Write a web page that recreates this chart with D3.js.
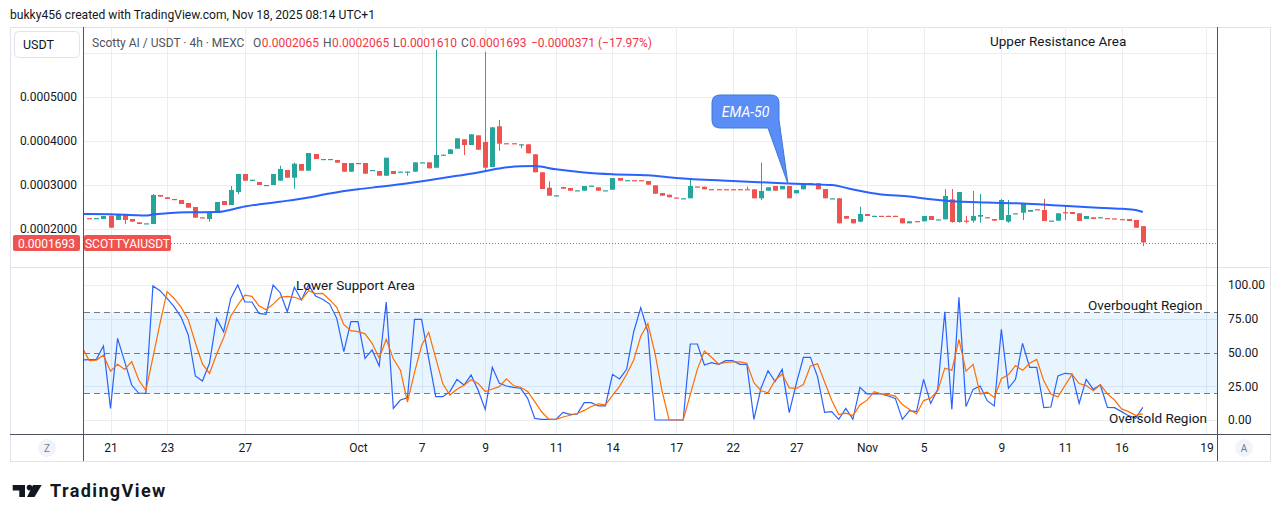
<!DOCTYPE html>
<html>
<head>
<meta charset="utf-8">
<script src="https://cdn.jsdelivr.net/npm/d3@7"></script>
<style>
body{margin:0;background:#fff;}
text{font-family:Roboto,"Liberation Sans",Arial,sans-serif;}
</style>
</head>
<body>
<div class="container"></div>
<script>
// prices are in units of 1e-7 USDT (2065 = 0.0002065), bar index 1..150
const opens = [2248,2243,2227,2303,2205,2318,2227,2152,2122,2114,
 2773,2720,2682,2659,2591,2500,2265,2227,2386,2636,
 2545,2841,3250,3114,3068,2993,3000,3098,3341,3166,
 3477,3325,3705,3584,3584,3568,3500,3302,3500,3500,
 3334,3318,3211,3318,3300,3300,3302,3510,3515,3393,
 3682,3705,3825,4039,3909,4129,3977,3409,4334,3950,
 3950,3920,3925,3698,3289,2939,2759,2955,2932,2875,
 2870,2977,2947,2875,2893,3159,3105,3110,3110,3091,
 2993,2818,2780,2716,2693,2698,2966,2961,2905,2905,
 2905,2905,2905,2905,2902,2698,2870,2977,2902,2977,
 2811,2902,3039,3039,2909,2693,2698,2295,2227,2167,
 2341,2295,2300,2300,2300,2243,2129,2180,2175,2295,
 2216,2220,2675,2159,2190,2189,2280,2268,2227,2205,
 2167,2352,2370,2393,2450,2432,2186,2189,2382,2386,
 2357,2227,2265,2263,2248,2240,2225,2227,2205,2065];
const highs = [2248,2248,2295,2303,2341,2318,2227,2152,2129,2795,
 2773,2720,2682,2659,2591,2500,2265,2379,2614,2636,
 2977,3250,3250,3120,3068,3000,3250,3439,3341,3507,
 3477,3727,3705,3591,3591,3568,3500,3500,3500,3500,
 3341,3318,3620,3318,3305,3305,3515,3515,3515,6068,
 3690,3811,4061,4039,4152,4129,6030,4311,4477,3950,
 3950,3925,3925,3698,3289,3084,2766,2955,2932,2880,
 2977,2984,2947,2880,3159,3159,3110,3110,3110,3091,
 2993,2818,2780,2716,2698,3152,2966,2961,2905,2905,
 2905,2905,2905,2961,2902,3507,2948,2977,2977,2977,
 2886,3039,3045,3039,2909,2698,2698,2295,2227,2507,
 2341,2300,2300,2300,2300,2243,2175,2180,2295,2295,
 2220,2909,2909,2841,2295,2864,2795,2268,2227,2682,
 2659,2357,2568,2432,2450,2682,2190,2357,2545,2386,
 2357,2295,2265,2268,2248,2240,2225,2227,2205,2065];
const lows = [2243,2243,2227,2030,2205,2114,2167,2114,2122,2114,
 2735,2682,2659,2568,2484,2257,2257,2167,2386,2545,
 2545,2795,3098,3114,3000,2993,3000,3098,3166,2916,
 3325,3325,3591,3584,3584,3507,3302,3302,3493,3257,
 3334,3211,3211,3250,3300,3211,3302,3510,3379,3393,
 3682,3705,3825,3682,3909,3802,3302,3409,3773,3943,
 3943,3834,3720,3289,2909,2757,2759,2916,2870,2875,
 2870,2977,2870,2875,2893,3098,3105,3105,3105,3007,
 2802,2757,2720,2711,2693,2698,2961,2902,2900,2900,
 2900,2900,2900,2900,2698,2659,2870,2870,2902,2698,
 2811,2902,3039,2902,2698,2693,2129,2234,2129,2152,
 2295,2295,2295,2295,2295,2129,2129,2175,2175,2205,
 2216,2220,2143,2143,2129,2143,2143,2263,2189,2205,
 2143,2352,2205,2393,2445,2182,2186,2189,2205,2341,
 2182,2227,2227,2263,2243,2235,2220,2182,2030,1610];
const closes = [2243,2248,2295,2030,2341,2205,2167,2114,2129,2773,
 2735,2682,2659,2568,2484,2257,2257,2379,2614,2545,
 2886,3250,3098,3120,3000,3000,3250,3364,3166,3484,
 3325,3727,3591,3591,3591,3507,3302,3500,3493,3257,
 3341,3211,3620,3250,3305,3305,3515,3515,3379,3682,
 3690,3811,4061,3909,4152,3802,3393,4311,3939,3943,
 3943,3925,3720,3289,2909,2757,2766,2916,2870,2880,
 2977,2984,2870,2880,3159,3098,3110,3105,3105,3007,
 2802,2757,2720,2711,2698,2977,2961,2902,2900,2900,
 2900,2900,2900,2900,2698,2864,2948,2870,2977,2698,
 2886,3039,3045,2902,2698,2698,2129,2234,2129,2341,
 2295,2300,2295,2295,2295,2129,2175,2175,2295,2205,
 2220,2750,2159,2841,2186,2295,2318,2263,2189,2659,
 2318,2357,2568,2432,2445,2182,2190,2357,2377,2341,
 2182,2295,2227,2268,2243,2235,2220,2182,2030,1693];

// EMA-50 at some bars
const emaIndex = [0,1,4,8,9,10,12,15,19,23,28,32,35,39,42,45,49,53,56,59,62,64,67,71,75,80,84,92,99,103,106,109,113,117,120,123,128,133,138,143,147,149,150];
const emaValue = [2341,2341,2336,2311,2307,2330,2357,2380,2386,2511,2620,2716,2807,2902,2959,3016,3107,3209,3284,3375,3425,3430,3357,3284,3243,3220,3159,3091,3041,3018,3000,2898,2784,2739,2675,2632,2602,2580,2534,2489,2459,2432,2386];

// stoch RSI, bar index 0..150
const stochK = [44.4,44.7,44.9,54.8,8.6,60.5,43.2,25.9,19.8,19.8,
 99.3,95.8,90.1,84,76,63,32.6,28.9,42,75.3,
 65.4,90.1,100,87.4,87.4,79,78.3,100,94.3,80.2,
 98.3,88.9,100,91.9,89.4,85.9,75.3,50.6,72.8,72.8,
 45.7,51.9,40,87.4,8.6,14.8,16.5,74.6,74.6,45.7,
 17.3,17.3,21,30.1,25.9,33.3,22,7.9,39,27.2,
 25.2,24.2,23.5,16,1.2,0.5,0.5,0.5,5.7,4.2,
 4.4,12.8,12.8,10.4,10.4,33.8,30.4,37.5,65.4,83.2,
 65.4,0,0,0,0,0,56.3,56.3,40.7,42.5,
 41.2,44,44,41.2,41.2,0.5,23.5,36.5,28.4,37.5,
 5.4,27.2,46.4,46.4,32.1,5.7,6.2,0.5,8.6,0.5,
 24.2,19.3,19.3,19.3,17.8,16,0.5,6.9,6.2,30.1,
 12.3,22.7,80.2,7.9,90.9,9.9,22.7,25.2,14.3,10.4,
 67.2,23.5,30.1,56.8,39,39,9.1,9.6,32.6,34.6,
 34.1,12.3,30.1,22.7,25.9,9.4,9.1,6.2,3.2,1.2,
 9.4];
const stochD = [53.8,44,44.4,48,36.1,41.3,37.4,43.2,29.6,21.8,
 46.3,71.6,95.1,90,83.4,74.3,57.2,41.5,34.5,48.7,
 60.9,76.9,85.2,92.5,91.6,84.6,81.6,85.8,90.9,91.5,
 90.9,89.1,95.7,93.6,93.8,89.1,83.5,70.6,66.2,65.4,
 63.8,56.8,45.9,59.8,45.3,36.9,13.3,35.3,55.2,65,
 45.9,26.8,18.5,22.8,25.7,29.8,27.1,21.1,23,24.7,
 30.5,25.5,24.3,21.2,13.6,5.9,0.7,0.5,2.2,3.5,
 4.8,7.1,10,12,11.2,18.2,24.9,33.9,44.4,62,
 71.3,49.7,21.8,0.2,0,0,18.8,37.5,51.1,46.5,
 41.5,42.6,43.1,43.1,42.1,27.6,21.7,20.2,29.5,34.1,
 23.8,23.4,26.3,40,41.6,28.1,14.7,4.1,5.1,3.2,
 11.1,14.7,20.9,19.3,18.8,17.7,11.4,7.8,4.5,14.4,
 16.2,21.7,38.4,36.9,59.7,36.2,41.2,19.3,20.7,16.6,
 30.6,33.7,40.3,36.8,42,44.9,29,19.2,17.1,25.6,
 33.8,27,25.5,21.7,26.2,19.3,14.8,8.2,6.2,3.5,
 4.6];

// time axis
const tickIndex = [4,12,23,39,48,57,67,75,84,92,101,111,119,130,139,147,159];
const tickLabels = ['21','23','27','Oct','7','9','11','14','17','22','27','Nov','5','9','11','16','19'];
const priceTicks = [2000,3000,4000,5000];
const oscTicks = [0,25,50,75,100];
const lastPrice = 1693;

const WIDTH = 1281, HEIGHT = 522;
const LEFT = 84, RIGHT = 1217;
const PRICE_TOP = 27, PRICE_BOTTOM = 267, OSC_TOP = 268, OSC_BOTTOM = 434, FRAME_BOTTOM = 461;
const UP = '#26a69a', DOWN = '#ef5350', GRID = '#e9eef4', AXIS = '#50535e', TXT = '#131722';

var svg = d3.select('.container').append('svg').attr('width',WIDTH).attr('height',HEIGHT);

var x = d3.scaleLinear().domain([0.25,160.5]).range([LEFT,RIGHT]);
var y = d3.scaleLinear().domain([2000,6000]).range([229,53]);
var yOsc = d3.scaleLinear().domain([0,100]).range([420,285]);

var crisp = function(v){ return Math.round(v)+0.5; };

svg.append('clipPath').attr('id','priceClip').append('rect')
  .attr('x',LEFT).attr('y',PRICE_TOP).attr('width',RIGHT-LEFT).attr('height',PRICE_BOTTOM-PRICE_TOP);
svg.append('clipPath').attr('id','oscClip').append('rect')
  .attr('x',LEFT).attr('y',OSC_TOP).attr('width',RIGHT-LEFT).attr('height',OSC_BOTTOM-OSC_TOP);

// header
svg.append('text').attr('x',10).attr('y',18.5).attr('font-size',12.1).attr('fill',TXT)
  .text('bukky456 created with TradingView.com, Nov 18, 2025 08:14 UTC+1');

// frame
svg.append('rect').attr('x',10.5).attr('y',PRICE_TOP+0.5).attr('width',1260).attr('height',FRAME_BOTTOM-PRICE_TOP)
  .attr('fill','none').attr('stroke','#e0e3eb');

// grid
var grid = svg.append('g');
tickIndex.forEach(function(t){
  grid.append('line').attr('x1',crisp(x(t))).attr('x2',crisp(x(t))).attr('y1',PRICE_TOP).attr('y2',PRICE_BOTTOM).attr('stroke',GRID);
  grid.append('line').attr('x1',crisp(x(t))).attr('x2',crisp(x(t))).attr('y1',OSC_TOP).attr('y2',OSC_BOTTOM).attr('stroke',GRID);
});
priceTicks.concat([6000]).forEach(function(p){
  grid.append('line').attr('x1',LEFT).attr('x2',RIGHT).attr('y1',crisp(y(p))).attr('y2',crisp(y(p))).attr('stroke',GRID);
});
[0,25,75,100].forEach(function(v){
  grid.append('line').attr('x1',LEFT).attr('x2',RIGHT).attr('y1',crisp(yOsc(v))).attr('y2',crisp(yOsc(v))).attr('stroke',GRID);
});

// oscillator band and levels
svg.append('rect').attr('x',LEFT).attr('y',yOsc(80)).attr('width',RIGHT-LEFT).attr('height',yOsc(20)-yOsc(80))
  .attr('fill','rgba(33,150,243,0.1)');
[80,50,20].forEach(function(v){
  svg.append('line').attr('x1',LEFT).attr('x2',RIGHT).attr('y1',crisp(yOsc(v))).attr('y2',crisp(yOsc(v)))
    .attr('stroke','#787b86').attr('stroke-dasharray','6,4');
});

// candles
var candles = svg.append('g').attr('clip-path','url(#priceClip)');
var bars = d3.range(opens.length);
candles.selectAll('line').data(bars).join('line')
  .attr('x1',function(i){ return Math.round(x(i+1))+0.5; })
  .attr('x2',function(i){ return Math.round(x(i+1))+0.5; })
  .attr('y1',function(i){ return y(highs[i]); })
  .attr('y2',function(i){ return y(lows[i]); })
  .attr('stroke',function(i){ return closes[i]>=opens[i] ? UP : DOWN; });
candles.selectAll('rect').data(bars).join('rect')
  .attr('x',function(i){ return Math.round(x(i+1))-2; })
  .attr('y',function(i){ return y(Math.max(opens[i],closes[i])); })
  .attr('width',5)
  .attr('height',function(i){ return Math.max(1.2, Math.abs(y(opens[i])-y(closes[i]))); })
  .attr('fill',function(i){ return closes[i]>=opens[i] ? UP : DOWN; });

// EMA-50
var ema = d3.line().x(function(d){ return x(d[0]); }).y(function(d){ return y(d[1]); }).curve(d3.curveMonotoneX);
svg.append('path').attr('clip-path','url(#priceClip)')
  .attr('d',ema(d3.zip(emaIndex,emaValue)))
  .attr('fill','none').attr('stroke','#2962ff').attr('stroke-width',2);

// last price line
svg.append('line').attr('x1',LEFT).attr('x2',RIGHT).attr('y1',crisp(y(lastPrice))).attr('y2',crisp(y(lastPrice)))
  .attr('stroke',DOWN).attr('stroke-dasharray','1,2');

// stoch lines
var oscLine = function(values){
  return d3.line().x(function(d,i){ return x(i); }).y(function(d){ return yOsc(d); })(values);
};
var osc = svg.append('g').attr('clip-path','url(#oscClip)');
osc.append('path').attr('d',oscLine(stochK)).attr('fill','none').attr('stroke','#2962ff').attr('stroke-width',1.2);
osc.append('path').attr('d',oscLine(stochD)).attr('fill','none').attr('stroke','#ff6d00').attr('stroke-width',1.2);

// axes
var priceAxis = svg.append('g').attr('transform','translate(80,0)')
  .call(d3.axisLeft(y).tickValues(priceTicks).tickSize(0).tickPadding(3)
    .tickFormat(function(d){ return (d*1e-7).toFixed(7); }));
var oscAxis = svg.append('g').attr('transform','translate(1225,0)')
  .call(d3.axisRight(yOsc).tickValues(oscTicks).tickSize(0).tickPadding(3)
    .tickFormat(function(d){ return d.toFixed(2); }));
var timeAxis = svg.append('g').attr('transform','translate(0,'+OSC_BOTTOM+')')
  .call(d3.axisBottom(x).tickValues(tickIndex).tickSize(0).tickPadding(9.5)
    .tickFormat(function(d,i){ return tickLabels[i]; }));
[priceAxis,oscAxis,timeAxis].forEach(function(a){
  a.select('.domain').remove();
  a.selectAll('text').attr('font-size',12).attr('fill',TXT).attr('font-family','Roboto, sans-serif');
});

// separators
svg.append('line').attr('x1',10).attr('x2',1271).attr('y1',PRICE_BOTTOM+0.5).attr('y2',PRICE_BOTTOM+0.5).attr('stroke','#e0e3eb');
svg.append('line').attr('x1',10).attr('x2',1271).attr('y1',OSC_BOTTOM+0.5).attr('y2',OSC_BOTTOM+0.5).attr('stroke',AXIS);
svg.append('line').attr('x1',LEFT-0.5).attr('x2',LEFT-0.5).attr('y1',PRICE_TOP).attr('y2',FRAME_BOTTOM).attr('stroke',AXIS);
svg.append('line').attr('x1',RIGHT+0.5).attr('x2',RIGHT+0.5).attr('y1',PRICE_TOP).attr('y2',FRAME_BOTTOM).attr('stroke',AXIS);

// legend
svg.append('rect').attr('x',14.5).attr('y',31.5).attr('width',65).attr('height',26).attr('rx',4)
  .attr('fill','#fff').attr('stroke','#e0e3eb');
svg.append('text').attr('x',23).attr('y',48.5).attr('font-size',12.5).attr('fill',TXT).text('USDT');
svg.append('text').attr('x',92).attr('y',47).attr('font-size',12).attr('fill','#50535e').text('Scotty AI / USDT · 4h · MEXC');
var ohlc = [['O','0.0002065',253],['H','0.0002065',323],['L','0.0001610',393],['C','0.0001693',461]];
ohlc.forEach(function(d){
  var t = svg.append('text').attr('x',d[2]).attr('y',47).attr('font-size',12);
  t.append('tspan').attr('fill','#50535e').text(d[0]);
  t.append('tspan').attr('dx',0.5).attr('fill','#f23645').text(d[1]);
});
svg.append('text').attr('x',531).attr('y',47).attr('font-size',12).attr('fill','#f23645').text('−0.0000371 (−17.97%)');

// last price labels
svg.append('rect').attr('x',13).attr('y',235).attr('width',67).attr('height',16).attr('rx',2).attr('fill',DOWN);
svg.append('text').attr('x',46.5).attr('y',247.5).attr('text-anchor','middle').attr('font-size',12).attr('fill','#fff').text('0.0001693');
svg.append('rect').attr('x',84).attr('y',235).attr('width',87).attr('height',16).attr('rx',2).attr('fill',DOWN);
svg.append('text').attr('x',127.5).attr('y',247.5).attr('text-anchor','middle').attr('font-size',12).attr('fill','#fff').text('SCOTTYAIUSDT');

// annotations
var note = function(tx,ty,str){
  return svg.append('text').attr('x',tx).attr('y',ty).attr('font-size',13.5).attr('fill',TXT).text(str);
};
note(990,46,'Upper Resistance Area');
note(296,290,'Lower Support Area');
note(1088,310,'Overbought Region');
note(1109,423,'Oversold Region');

// EMA-50 callout
svg.append('path')
  .attr('d','M720,95 H771 Q779,95 779,103 V120 L788,184 L768,128 H720 Q712,128 712,120 V103 Q712,95 720,95 Z')
  .attr('fill','#5b8df6').attr('stroke','#3a7bd5').attr('stroke-width',1);
svg.append('text').attr('x',745.5).attr('y',116.5).attr('text-anchor','middle').attr('font-size',14)
  .attr('font-style','italic').attr('fill','#fff').text('EMA-50');

// scale buttons
[['Z',47],['A',1244]].forEach(function(d){
  svg.append('circle').attr('cx',d[1]).attr('cy',448).attr('r',9).attr('fill','#f0f3fa');
  svg.append('text').attr('x',d[1]).attr('y',452).attr('text-anchor','middle').attr('font-size',10).attr('fill','#787b86').text(d[0]);
});

// logo
var logo = svg.append('g').attr('fill',TXT);
logo.append('path').attr('d','M12.7,485 H25 V497 H19.3 V490.5 H12.7 Z');
logo.append('circle').attr('cx',29.5).attr('cy',487.6).attr('r',2.8);
logo.append('path').attr('d','M33,485 H41.7 L34.5,497 H27 Z');
svg.append('text').attr('x',50).attr('y',497).attr('font-size',18).attr('font-weight','bold')
  .attr('letter-spacing',1.4).attr('fill',TXT).text('TradingView');
</script>
</body>
</html>
